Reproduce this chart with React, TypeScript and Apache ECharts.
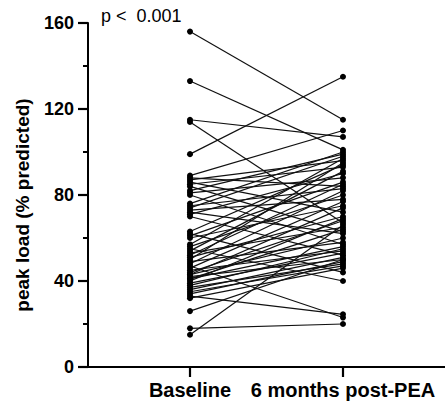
import React, { useEffect, useRef } from "react";
import * as echarts from "echarts";

const groupLabels = ["Baseline", "6 months post-PEA"];
const groupPositions = [2, 5];
const xRange = [0, 7];
const yTicks = [0, 40, 80, 120, 160];
const pValueText = "p <  0.001";

const baseline = [
  156, 133, 115, 114, 99,
  89, 88, 87, 86, 85, 84, 82, 81, 80,
  76, 75, 74, 73, 72, 71, 70,
  63, 62, 61, 60,
  57, 56, 55, 54, 53, 52, 51, 50, 49, 48, 47, 46, 45, 44, 43, 43, 42, 41, 41, 40, 39,
  38, 37, 36, 35, 34, 32,
  33, 26, 18, 15,
];
const sixMonths = [
  115, 101, 107, 67, 135,
  110, 84, 96, 72, 93, 63, 99, 88, 57,
  100, 83, 98, 78, 62, 90, 52,
  94, 44, 86, 75,
  97, 80, 40, 91, 65, 85, 70, 95, 58, 82, 23, 77, 54, 68, 60, 74, 50, 64, 56, 69, 53,
  55, 48, 51, 47, 49, 46,
  24.5, 50, 20, 66,
];

export default function App() {
  const ref = useRef<HTMLDivElement>(null);
  useEffect(() => {
    if (!ref.current) return;
    const chart = echarts.init(ref.current, undefined, { renderer: "svg" });
    const font = "Arial, 'Liberation Sans', Helvetica, sans-serif";
    const axisStyle = { color: "#000", width: 2, opacity: 1 };
    const tickLen = 10;
    const series: any[] = baseline.map((b, i) => ({
      type: "line",
      data: [
        [groupPositions[0], b],
        [groupPositions[1], sixMonths[i]],
      ],
      symbol: "circle",
      symbolSize: 6,
      itemStyle: { color: "#000" },
      lineStyle: { color: "#111", width: 1.2 },
      silent: true,
      z: 1,
    }));
    series.push({
      type: "custom",
      silent: true,
      clip: false,
      z: 6,
      encode: { x: 0, y: 1 },
      data: yTicks.map((v) => [xRange[0], v]),
      renderItem: (_params: any, api: any) => {
        const p = api.coord([api.value(0), api.value(1)]);
        return {
          type: "line",
          shape: { x1: p[0] - tickLen, y1: p[1], x2: p[0], y2: p[1] },
          style: { stroke: "#000", lineWidth: 2.2 },
        };
      },
    });
    series.push({
      type: "custom",
      silent: true,
      clip: false,
      z: 6,
      encode: { x: 0, y: 1 },
      data: groupPositions.map((g) => [g, yTicks[0]]),
      renderItem: (_params: any, api: any) => {
        const p = api.coord([api.value(0), api.value(1)]);
        return {
          type: "line",
          shape: { x1: p[0], y1: p[1], x2: p[0], y2: p[1] + tickLen },
          style: { stroke: "#000", lineWidth: 2.2 },
        };
      },
    });
    chart.setOption({
      animation: false,
      title: {
        text: pValueText,
        left: 96,
        top: 2,
        textStyle: { fontFamily: font, fontSize: 18, fontWeight: "normal", color: "#000" },
      },
      grid: { left: 88, right: 0, top: 23, bottom: 43, containLabel: false },
      xAxis: {
        type: "value",
        min: xRange[0],
        max: xRange[1],
        interval: 1,
        z: 5,
        axisLine: { show: true, onZero: false, lineStyle: axisStyle },
        axisTick: { show: false },
        axisLabel: {
          customValues: groupPositions,
          formatter: (v: number) => {
            const k = groupPositions.indexOf(Math.round(v));
            return k >= 0 ? groupLabels[k] : "";
          },
          margin: 13,
          fontFamily: font,
          fontSize: 20,
          fontWeight: "bold",
          color: "#000",
        },
        splitLine: { show: false },
      },
      yAxis: {
        type: "value",
        min: yTicks[0],
        max: yTicks[yTicks.length - 1],
        interval: 40,
        z: 5,
        name: "peak load (% predicted)",
        nameLocation: "middle",
        nameGap: 56,
        nameTextStyle: {
          fontFamily: font,
          fontSize: 19,
          fontWeight: "bold",
          color: "#000",
          padding: [0, 20, 0, 0],
        },
        axisLine: { show: true, lineStyle: axisStyle },
        axisTick: { show: false },
        minorTick: { show: true, splitNumber: 2, length: 5, lineStyle: axisStyle },
        axisLabel: { margin: 14, fontFamily: font, fontSize: 18, fontWeight: "bold", color: "#000" },
        splitLine: { show: false },
      },
      series,
    });
    return () => chart.dispose();
  }, []);
  return (
    <div
      ref={ref}
      style={{ position: "fixed", left: 0, top: 0, width: 445, height: 410, background: "#fff" }}
    />
  );
}
